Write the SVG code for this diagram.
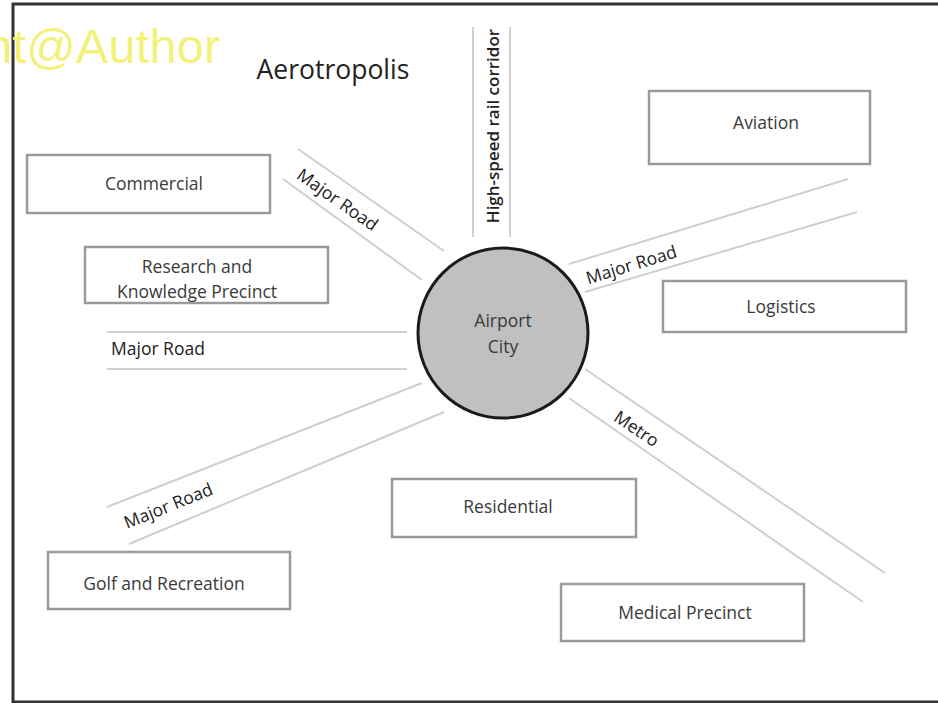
<svg xmlns="http://www.w3.org/2000/svg" width="938" height="703" viewBox="0 0 938 703">
<style>
.box{fill:#fff;stroke:#9a9a9a;stroke-width:2.5}
.road{stroke:#cfcfcf;stroke-width:2;fill:none}
.lbl{font-family:"Open Sans","Noto Sans",sans-serif;font-size:17.5px;fill:#3a3a3a;text-anchor:middle;dominant-baseline:central}
.rl{font-family:"Open Sans","Noto Sans",sans-serif;font-size:17.5px;fill:#222;text-anchor:middle;dominant-baseline:central}
</style>
<rect x="0" y="0" width="938" height="703" fill="#fff"/>
<rect x="13" y="4" width="940" height="698" fill="none" stroke="#333" stroke-width="3"/>
<text x="220" y="63" font-family="Liberation Sans, Arial, sans-serif" font-size="49" fill="#f4f07c" text-anchor="end">nt@Author</text>
<text x="333" y="79" font-family="Open Sans, Noto Sans, sans-serif" font-size="26.5" fill="#222" text-anchor="middle">Aerotropolis</text>
<g id="connectors">
  <line class="road" x1="473" y1="27" x2="473" y2="237"/>
  <line class="road" x1="510" y1="27" x2="510" y2="237"/>
  <text class="rl" font-weight="600" font-size="17" style="font-size:17px" transform="translate(492,126) rotate(-90)">High-speed  rail corridor</text>
  <line class="road" x1="298" y1="149" x2="444" y2="251"/>
  <line class="road" x1="283" y1="179" x2="422" y2="280"/>
  <text class="rl" transform="translate(338,199) rotate(35)">Major Road</text>
  <line class="road" x1="107" y1="332" x2="407" y2="332"/>
  <line class="road" x1="107" y1="369" x2="407" y2="369"/>
  <text class="rl" x="111" y="348" style="text-anchor:start">Major Road</text>
  <line class="road" x1="107" y1="507" x2="422" y2="383"/>
  <line class="road" x1="129" y1="544" x2="444" y2="412"/>
  <text class="rl" transform="translate(168,505) rotate(-22)">Major Road</text>
  <line class="road" x1="569" y1="264" x2="848" y2="179"/>
  <line class="road" x1="585" y1="292" x2="857" y2="212"/>
  <text class="rl" transform="translate(631,264) rotate(-17)">Major Road</text>
  <line class="road" x1="585" y1="369" x2="885" y2="573"/>
  <line class="road" x1="569" y1="398" x2="863" y2="602"/>
  <text class="rl" transform="translate(637,428) rotate(34)">Metro</text>
</g>
<g id="airport-city">
  <circle cx="503" cy="333" r="85" fill="#c0c0c0" stroke="#1a1a1a" stroke-width="3"/>
  <text class="lbl" x="503" y="320">Airport</text>
  <text class="lbl" x="503" y="346">City</text>
</g>
<g id="aviation"><rect class="box" x="649" y="91" width="221" height="73"/><text class="lbl" x="766" y="122">Aviation</text></g>
<g id="commercial"><rect class="box" x="27" y="155" width="243" height="58"/><text class="lbl" x="154" y="183">Commercial</text></g>
<g id="research"><rect class="box" x="85" y="247" width="243" height="56"/><text class="lbl" x="197" y="266">Research and</text><text class="lbl" x="197" y="291">Knowledge Precinct</text></g>
<g id="logistics"><rect class="box" x="663" y="281" width="243" height="51"/><text class="lbl" x="781" y="306">Logistics</text></g>
<g id="residential"><rect class="box" x="392" y="479" width="244" height="58"/><text class="lbl" x="508" y="506">Residential</text></g>
<g id="medical"><rect class="box" x="561" y="584" width="243" height="57"/><text class="lbl" x="685" y="612">Medical Precinct</text></g>
<g id="golf"><rect class="box" x="48" y="552" width="242" height="57"/><text class="lbl" x="164" y="583">Golf and Recreation</text></g>
</svg>
